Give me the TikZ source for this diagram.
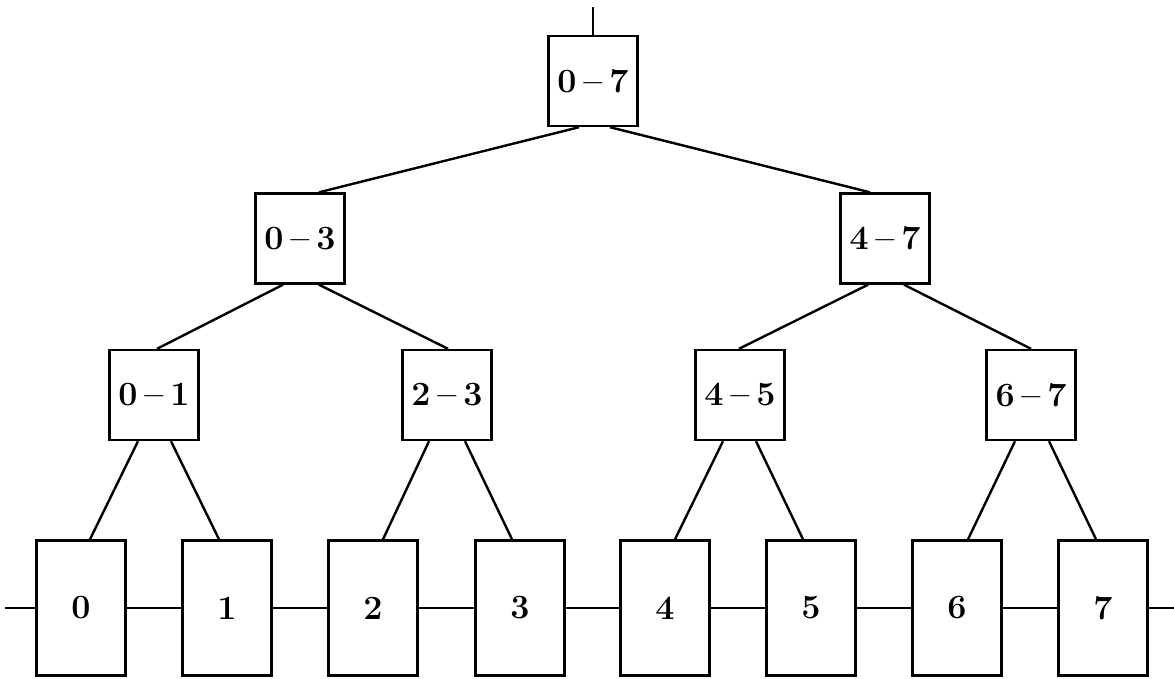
\documentclass[tikz,border=0pt]{standalone}
\usepackage{fontspec}
\setmainfont{Latin Modern Roman}
\usetikzlibrary{calc}
\newcommand\lbl{\fontsize{34}{40}\selectfont\bfseries}
\newcommand\rng[2]{#1\hspace{0.2em}–\hspace{0.2em}#2}
\begin{document}
\begin{tikzpicture}[x=1pt,y=-1pt,line width=2.4pt,
  inbox/.style={draw, inner sep=0pt, minimum width=89pt, minimum height=90pt, font=\lbl},
  leafbox/.style={draw, inner sep=0pt, minimum width=89pt, minimum height=135pt, font=\lbl},
  wire/.style={line width=2.4pt}]
\useasboundingbox (0,0) rectangle (1174,678);
% root
\node[inbox] (r) at (593,81) {\rng{0}{7}};
% level 2
\node[inbox] (a) at (300,238.5) {\rng{0}{3}};
\node[inbox] (b) at (885,238.5) {\rng{4}{7}};
% level 3
\node[inbox] (c) at (154,395) {\rng{0}{1}};
\node[inbox] (d) at (447,395) {\rng{2}{3}};
\node[inbox] (e) at (740,395) {\rng{4}{5}};
\node[inbox] (f) at (1031,395) {\rng{6}{7}};
% leaves
\node[leafbox] (l0) at (81,608) {0};
\node[leafbox] (l1) at (227,608) {1};
\node[leafbox] (l2) at (373,608) {2};
\node[leafbox] (l3) at (520,608) {3};
\node[leafbox] (l4) at (665,608) {4};
\node[leafbox] (l5) at (811,608) {5};
\node[leafbox] (l6) at (957,608) {6};
\node[leafbox] (l7) at (1103,608) {7};
% free ends
\coordinate (top) at (593,7);
\coordinate (lend) at (5,608);
\coordinate (rend) at (1174,608);
% tree connectors
\draw[wire] (top) -- (r.north);
\draw[wire] ($(r.south)+(-14,0)$) -- ($(a.north)+(19,0)$);
\draw[wire] ($(r.south)+(17,0)$) -- ($(b.north)+(-15,0)$);
\draw[wire] ($(a.south)+(-17,0)$) -- ($(c.north)+(3,0)$);
\draw[wire] ($(a.south)+(19,0)$) -- ($(d.north)+(1,0)$);
\draw[wire] ($(b.south)+(-17,0)$) -- ($(e.north)+(-1,0)$);
\draw[wire] ($(b.south)+(19,0)$) -- ($(f.north)+(0,0)$);
\draw[wire] ($(c.south)+(-16,0)$) -- ($(l0.north)+(9,0)$);
\draw[wire] ($(c.south)+(17,0)$) -- ($(l1.north)+(-8,0)$);
\draw[wire] ($(d.south)+(-18,0)$) -- ($(l2.north)+(10,0)$);
\draw[wire] ($(d.south)+(18,0)$) -- ($(l3.north)+(-8,0)$);
\draw[wire] ($(e.south)+(-17,0)$) -- ($(l4.north)+(10,0)$);
\draw[wire] ($(e.south)+(16,0)$) -- ($(l5.north)+(-8,0)$);
\draw[wire] ($(f.south)+(-16,0)$) -- ($(l6.north)+(11,0)$);
\draw[wire] ($(f.south)+(18,0)$) -- ($(l7.north)+(-7,0)$);
% bus line
\draw[wire] (lend) -- (l0.west);
\draw[wire] (l0.east) -- (l1.west);
\draw[wire] (l1.east) -- (l2.west);
\draw[wire] (l2.east) -- (l3.west);
\draw[wire] (l3.east) -- (l4.west);
\draw[wire] (l4.east) -- (l5.west);
\draw[wire] (l5.east) -- (l6.west);
\draw[wire] (l6.east) -- (l7.west);
\draw[wire] (l7.east) -- (rend);
\end{tikzpicture}
\end{document}
